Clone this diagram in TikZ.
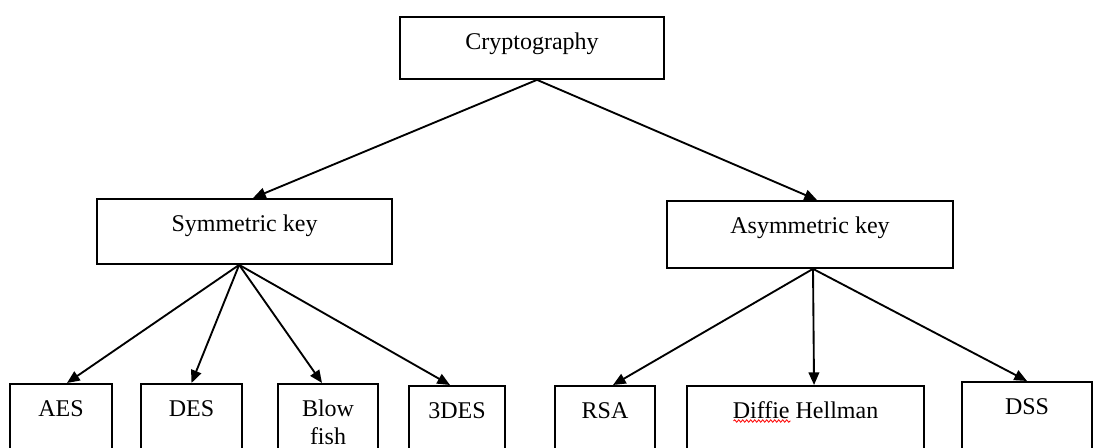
\documentclass[tikz,border=0pt]{standalone}
\usepackage{fontspec}
\setmainfont{Liberation Serif}
\usetikzlibrary{arrows.meta, decorations.pathmorphing}

\begin{document}
\begin{tikzpicture}[
  x=0.75pt, y=-0.75pt,
  box/.style={draw, line width=1.4pt, anchor=north, inner xsep=0pt, inner ysep=4.5pt,
    text height=20pt, font=\fontsize{18pt}{21pt}\selectfont},
  leaf/.style={box, text depth=46pt},
  arr/.style={-{Triangle[length=9.5pt,width=8pt]}, line width=1.4pt},
  spellwave/.style={red, line width=0.6pt, decorate,
    decoration={snake, amplitude=0.9pt, segment length=3pt}}
]
  \useasboundingbox (0,0) rectangle (1094,448);

  % Nodes
  \node[box, minimum width=198pt, text depth=17.5pt] (crypto) at (532,16) {Cryptography};

  \node[box, minimum width=221pt, text depth=19.75pt] (sym) at (244.5,198) {Symmetric key};
  \node[box, minimum width=214.5pt, text depth=21.25pt] (asym) at (810,200) {Asymmetric key};

  \node[leaf, minimum width=76.5pt] (aes) at (61,383) {AES};
  \node[leaf, minimum width=75.75pt] (des) at (191.5,383) {DES};
  \node[leaf, minimum width=75pt, align=center, text height=41pt, text depth=25pt] (blow) at (328,383) {Blow\\fish};
  \node[leaf, minimum width=72pt] (tdes) at (457,385) {3DES};

  \node[leaf, minimum width=75pt] (rsa) at (605,385) {RSA};
  \node[leaf, minimum width=177.75pt] (dh) at (805.5,385) {Diffie Hellman};
  \node[leaf, minimum width=97.5pt] (dss) at (1027,381) {DSS};

  % Edges
  \draw[arr] ([xshift=3.75pt]crypto.south) -- ([xshift=6.4pt]sym.north);
  \draw[arr] ([xshift=3.75pt]crypto.south) -- ([xshift=5.25pt]asym.north);

  \draw[arr] ([xshift=-4pt]sym.south) -- ([xshift=4.5pt]aes.north);
  \draw[arr] ([xshift=-4pt]sym.south) -- (des.north);
  \draw[arr] ([xshift=-4pt]sym.south) -- ([xshift=-4.5pt]blow.north);
  \draw[arr] ([xshift=-4pt]sym.south) -- ([xshift=-5.25pt]tdes.north);

  \draw[arr] ([xshift=2.25pt]asym.south) -- ([xshift=6pt]rsa.north);
  \draw[arr] ([xshift=2.25pt]asym.south) -- ([xshift=6.4pt]dh.north);
  \draw[arr] ([xshift=2.25pt]asym.south) -- (dss.north);

  % Rechtschreib-Welle unter "Diffie"
  \draw[spellwave] ([shift={(-72,36)}]dh.north) -- ([shift={(-15,36)}]dh.north);
\end{tikzpicture}
\end{document}
